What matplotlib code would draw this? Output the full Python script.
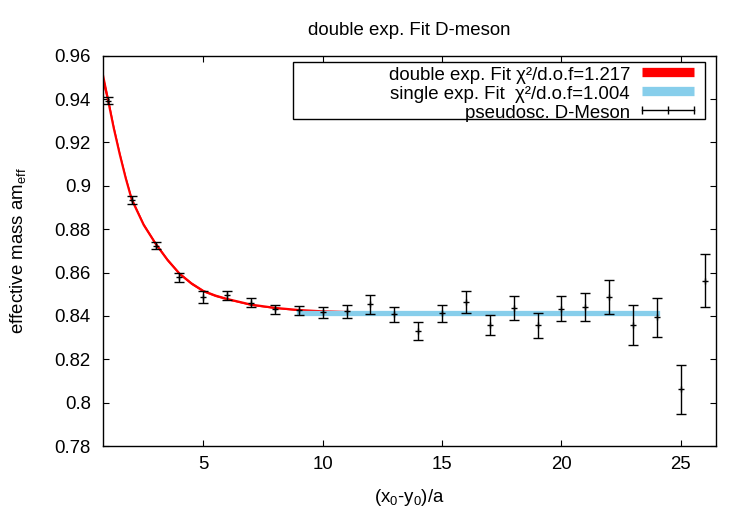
import matplotlib.pyplot as plt
from matplotlib.lines import Line2D
from matplotlib.patches import Rectangle

plt.rcParams['font.family'] = ['Liberation Sans', 'DejaVu Sans']
plt.rcParams['mathtext.fontset'] = 'custom'
plt.rcParams['mathtext.rm'] = 'Liberation Sans'
plt.rcParams['mathtext.it'] = 'Liberation Sans:italic'

FS = 13.4

# measured effective mass (pseudoscalar D-meson)
t = list(range(1, 27))
m_eff = [0.9393, 0.8934, 0.8724, 0.8578, 0.8487, 0.8495, 0.8461, 0.8431, 0.8426, 0.8417,
         0.8422, 0.8453, 0.8408, 0.8331, 0.8413, 0.8464, 0.8356, 0.8435, 0.8356, 0.8434,
         0.8441, 0.8487, 0.8357, 0.8393, 0.8062, 0.8562]
m_err = [0.0017, 0.0020, 0.0015, 0.0020, 0.0027, 0.0022, 0.0022, 0.0020, 0.0020, 0.0025,
         0.0030, 0.0044, 0.0035, 0.0040, 0.0039, 0.0049, 0.0046, 0.0056, 0.0056, 0.0057,
         0.0064, 0.0080, 0.0093, 0.0089, 0.0113, 0.0123]

# double exponential fit curve
fit2_t = [0.82, 1.0, 1.25, 1.5, 1.75, 2.0, 2.5, 3.0, 3.5, 4.0, 4.5, 5.0, 5.5, 6.0,
          7.0, 8.0, 9.0, 10.0, 11.0, 12.0, 14.0, 18.0, 24.0]
fit2_m = [0.9485, 0.9400, 0.9265, 0.9145, 0.9035, 0.8937, 0.8820, 0.8733, 0.8658, 0.8595,
          0.8550, 0.8515, 0.8494, 0.8478, 0.8452, 0.8437, 0.8427, 0.8421, 0.8418, 0.8416,
          0.8415, 0.8414, 0.8414]
fit2_err = [0.0030, 0.0016, 0.0013, 0.0011, 0.0010, 0.0009, 0.0008, 0.0007, 0.0007, 0.0006,
            0.0006, 0.0005, 0.0005, 0.0004, 0.0004, 0.0003, 0.0003, 0.0003, 0.0003, 0.0003,
            0.0003, 0.0003, 0.0003]

# single exponential fit (plateau)
fit1_t = [9, 24]
fit1_m = [0.8414, 0.8414]

fig = plt.figure(figsize=(7.5, 5.25), dpi=100)
ax = fig.add_axes([103.3 / 750, 1 - 446 / 525, 612.4 / 750, 390.3 / 525])

lo = [m - e for m, e in zip(fit2_m, fit2_err)]
hi = [m + e for m, e in zip(fit2_m, fit2_err)]
ax.fill_between(fit2_t, lo, hi, color='red', lw=0, zorder=2)
ax.plot(fit2_t, fit2_m, color='red', lw=1.6, zorder=2)
ax.plot(fit1_t, fit1_m, color='skyblue', lw=3.8, solid_capstyle='projecting', zorder=3)
ax.errorbar(t, m_eff, yerr=m_err, fmt='+', color='black', ms=4, mew=1,
            elinewidth=1, capsize=3.4, capthick=1, zorder=4)

ax.set_xlim(0.81, 26.46)
ax.set_ylim(0.78, 0.96)
ax.set_xticks([5, 10, 15, 20, 25])
ax.set_yticks([0.78, 0.8, 0.82, 0.84, 0.86, 0.88, 0.9, 0.92, 0.94, 0.96])
ax.set_yticklabels(['0.78', '0.8', '0.82', '0.84', '0.86', '0.88', '0.9', '0.92', '0.94', '0.96'])
ax.tick_params(direction='in', length=4.3, width=0.8, labelsize=FS,
               top=True, right=True)
ax.tick_params(axis='x', pad=7)
ax.tick_params(axis='y', pad=9)
for s in ax.spines.values():
    s.set_linewidth(1)

ax.set_title('double exp. Fit D-meson', fontsize=FS, pad=15)
ax.set_xlabel(r'(x$_0$-y$_0$)/a', fontsize=FS)
ax.set_ylabel(r'effective mass am$_{\rm eff}$', fontsize=FS)
ax.xaxis.set_label_coords(0.5, -0.105)
ax.yaxis.set_label_coords(-0.123, 0.5)

# key box, drawn gnuplot style in figure pixels
W, H = 750.0, 525.0
fig.patches.append(Rectangle((293 / W, 1 - 119 / H), 412 / W, 57 / H,
                             transform=fig.transFigure, facecolor='white',
                             edgecolor='black', lw=1, zorder=5))
labels = ['double exp. Fit \u03c7\u00b2/d.o.f=1.217',
          'single exp. Fit  \u03c7\u00b2/d.o.f=1.004',
          'pseudosc. D-Meson']
baselines = [80, 99, 117.5]
rows = [72, 91, 110]
for lab, yb in zip(labels, baselines):
    fig.text(630 / W, 1 - yb / H, lab, ha='right', va='baseline', fontsize=FS, zorder=6)
fig.add_artist(Line2D([642 / W, 694 / W], [1 - rows[0] / H] * 2, color='red', lw=6.7,
                      solid_capstyle='butt', zorder=6))
fig.add_artist(Line2D([642 / W, 694 / W], [1 - rows[1] / H] * 2, color='skyblue', lw=6.7,
                      solid_capstyle='butt', zorder=6))
fig.add_artist(Line2D([642 / W, 668 / W, 694 / W], [1 - rows[2] / H] * 3, color='black', lw=1,
                      marker='|', ms=6, mew=1, zorder=6))

fig.savefig('out.png', dpi=100)
